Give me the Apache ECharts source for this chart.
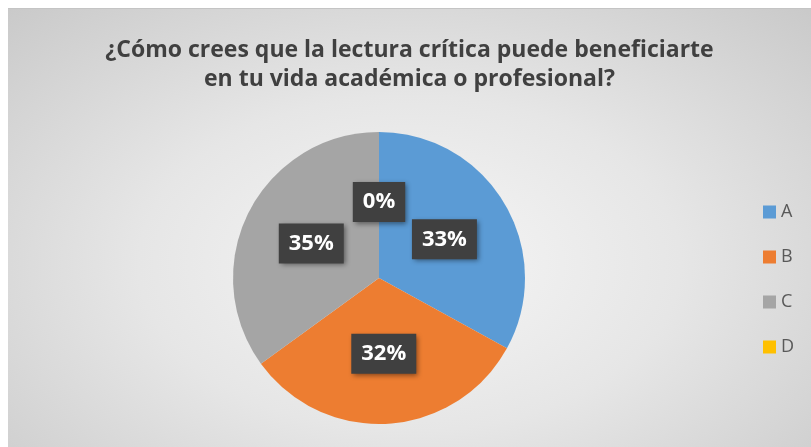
<!DOCTYPE html>
<html>
<head>
<meta charset="utf-8">
<script src="https://cdn.jsdelivr.net/npm/echarts@6/dist/echarts.min.js"></script>
<style>
  html, body { margin: 0; padding: 0; background: #ffffff; }
  #frame {
    position: absolute; left: 8px; top: 8px; width: 803px; height: 439px;
    border-top: 1px solid #c4c4c4;
    background: radial-gradient(ellipse 75% 85% at 50% 58%, #f6f6f6 0%, #e6e6e6 45%, #c7c7c7 100%);
  }
  #chart { position: absolute; left: 0; top: 0; width: 803px; height: 438px; }
</style>
</head>
<body>
<div id="frame"><div id="chart"></div></div>
<script>
var titleText = '¿Cómo crees que la lectura crítica puede beneficiarte\nen tu vida académica o profesional?';
var categories = ['A', 'B', 'C', 'D'];
var percents = [33, 32, 35, 0];
var colors = ['#5B9BD5', '#ED7D31', '#A5A5A5', '#FFC000'];

var pieData = [];
for (var i = 0; i < categories.length; i++) {
  pieData.push({ name: categories[i], value: percents[i], itemStyle: { color: colors[i] } });
}

var myChart = echarts.init(document.getElementById('chart'));
myChart.setOption({
  backgroundColor: 'transparent',
  animation: false,
  title: {
    text: titleText,
    left: 'center',
    top: 22,
    textStyle: {
      fontFamily: 'Open Sans',
      fontWeight: 'bold',
      fontSize: 23,
      lineHeight: 29,
      color: '#404040'
    }
  },
  legend: {
    orient: 'vertical',
    left: 755,
    top: 194,
    padding: 0,
    itemWidth: 13,
    itemHeight: 13,
    itemGap: 27,
    icon: 'rect',
    data: categories,
    textStyle: { fontFamily: 'Open Sans', fontSize: 18, color: '#595959' }
  },
  series: [
    {
      type: 'pie',
      center: [371, 269],
      radius: [0, 146],
      startAngle: 90,
      clockwise: true,
      stillShowZeroSum: true,
      minShowLabelAngle: 0,
      data: pieData,
      itemStyle: { borderWidth: 0 },
      label: {
        show: true,
        position: 'inside',
        formatter: function (p) { return p.value + '%'; },
        fontFamily: 'Open Sans',
        fontWeight: 'bold',
        fontSize: 22,
        color: '#ffffff',
        backgroundColor: '#404040',
        padding: [10, 10, 8, 10],
        shadowColor: 'rgba(0,0,0,0.45)',
        shadowBlur: 5,
        shadowOffsetX: 2,
        shadowOffsetY: 2
      },
      labelLine: { show: false },
      emphasis: { disabled: true }
    }
  ]
});
</script>
</body>
</html>
